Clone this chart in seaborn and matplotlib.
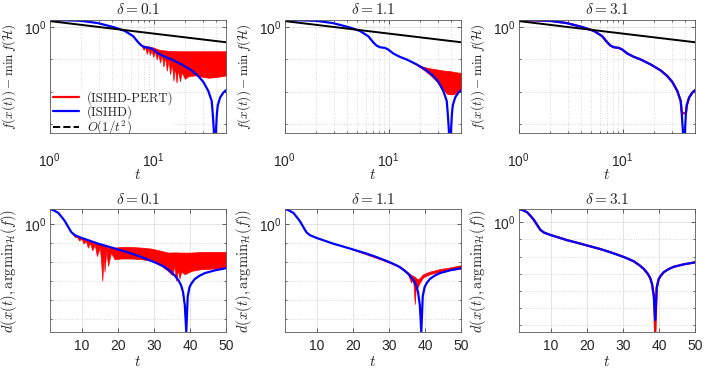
import numpy as np
import pandas as pd
import matplotlib
matplotlib.use("Agg")
import matplotlib.pyplot as plt
import matplotlib.ticker as mticker
from matplotlib.lines import Line2D
from matplotlib.font_manager import FontProperties
import seaborn as sns

sns.set_style("ticks")
plt.rcParams["font.family"] = ["Liberation Sans", "DejaVu Sans"]
plt.rcParams["mathtext.fontset"] = "custom"
plt.rcParams["mathtext.rm"] = "Liberation Sans"
plt.rcParams["mathtext.it"] = "Liberation Sans:italic"
plt.rcParams["mathtext.bf"] = "Liberation Sans:bold"

# ---- data ----
deltas = ["0.1", "1.1", "3.1"]

# top row: f(x(t)) - min f   (ISIHD, same in all panels)
t_fgap = [1.0, 1.4, 2.0, 2.9, 4.2, 5.3, 6.36, 7.1, 7.65, 8.24, 9.2, 9.9, 11.1, 12.8, 14.9,
          18.6, 23.2, 26.9, 30.1, 33.6, 36.2, 37.0, 38.0, 38.6, 39.0, 39.4, 40.0, 40.6,
          41.4, 43.6, 46.9, 50.0]
fgap_isihd = [1.63, 1.66, 1.60, 1.36, 1.0, 0.77, 0.53, 0.343, 0.27, 0.24, 0.229, 0.204,
              0.153, 0.121, 0.0998, 0.070, 0.0456, 0.0304, 0.0198, 0.0104, 0.0051, 0.0022,
              0.0006, 0.0001, 0.00002, 0.00012, 0.0008, 0.002, 0.0037, 0.0065, 0.0093, 0.0112]

# O(1/t^2) reference line
t_rate = [1.0, 10.0, 50.0]
rate = [1.57, 0.64, 0.343]

# ISIHD-PERT, delta = 0.1 (oscillating band: upper / lower envelope)
t_pert_f1 = [7.65, 8.0, 8.3, 8.6, 8.9, 9.2, 9.55, 9.9, 10.3, 10.7, 11.1, 11.5, 12.0, 12.4,
             12.9, 13.4, 13.9, 14.4, 15.0, 15.5, 16.0, 16.6, 17.2, 17.9, 18.6, 20.0, 21.6,
             25.1, 29.0, 33.6, 39.0, 45.0, 50.0]
pert_f1_up = [0.27, 0.27, 0.265, 0.26, 0.255, 0.25, 0.245, 0.235, 0.225, 0.215, 0.205, 0.2,
              0.195, 0.193, 0.19, 0.188, 0.186, 0.185, 0.184, 0.183, 0.182, 0.182, 0.181,
              0.181, 0.18, 0.18, 0.18, 0.18, 0.18, 0.18, 0.18, 0.18, 0.18]
pert_f1_lo = [0.27, 0.2, 0.24, 0.15, 0.22, 0.14, 0.2, 0.12, 0.18, 0.1, 0.16, 0.08, 0.14,
              0.06, 0.12, 0.045, 0.1, 0.035, 0.08, 0.022, 0.06, 0.019, 0.05, 0.021, 0.04,
              0.025, 0.03, 0.032, 0.029, 0.027, 0.028, 0.03, 0.032]

# ISIHD-PERT, delta = 1.1
t_pert_f2 = [16.7, 18.5, 21.6, 25.0, 29.0, 32.4, 36.3, 39.0, 42.0, 46.9, 50.0]
pert_f2_up = [0.085, 0.072, 0.059, 0.053, 0.049, 0.046, 0.044, 0.0434, 0.041, 0.039, 0.0385]
pert_f2_lo = [0.085, 0.068, 0.048, 0.033, 0.021, 0.0132, 0.0086, 0.0082, 0.0082, 0.0097, 0.0104]

# ISIHD-PERT, delta = 3.1 (on top of ISIHD except at the dip)
pert_f3 = [1.63, 1.66, 1.60, 1.36, 1.0, 0.77, 0.53, 0.343, 0.27, 0.24, 0.229, 0.204,
           0.153, 0.121, 0.0998, 0.070, 0.0456, 0.0304, 0.0198, 0.0104, 0.0051, 0.0024,
           0.0021, 0.0021, 0.0021, 0.0021, 0.0021, 0.0022, 0.0037, 0.0065, 0.0093, 0.0112]

# bottom row: distance to argmin (ISIHD)
t_dist = [1.0, 1.5, 2.0, 2.7, 3.35, 4.3, 5.2, 6.1, 7.0, 8.0, 9.8, 12.0, 14.4, 17.0, 19.0,
          21.5, 23.7, 26.0, 28.3, 30.5, 32.9, 34.5, 35.7, 36.8, 37.5, 38.0, 38.5, 38.9,
          39.3, 39.8, 40.3, 41.2, 42.5, 44.0, 46.8, 50.0]
dist_isihd = [5.7, 5.6, 5.2, 4.4, 3.8, 2.3, 1.38, 0.70, 0.36, 0.25, 0.18, 0.13, 0.09, 0.065,
              0.05, 0.036, 0.027, 0.019, 0.013, 0.0088, 0.0053, 0.0031, 0.0019, 0.001,
              0.00055, 0.00025, 0.00005, 0.000002, 0.00015, 0.00045, 0.0007, 0.0012, 0.0018,
              0.0025, 0.0035, 0.0046]

# ISIHD-PERT distance, delta = 0.1
t_pert_d1 = [7.0, 8.0, 8.6, 9.2, 9.8, 10.4, 11.0, 11.6, 12.2, 12.8, 13.5, 14.1, 14.9, 15.3,
             15.6, 16.0, 16.2, 16.7, 17.2, 18.0, 19.0, 20.9, 23.7, 26.4, 29.2, 32.0, 33.8,
             35.0, 35.6, 36.1, 36.6, 37.0, 37.5, 38.5, 40.3, 43.1, 46.8, 50.0]
pert_d1_up = [0.36, 0.25, 0.23, 0.21, 0.186, 0.17, 0.155, 0.145, 0.13, 0.118, 0.102, 0.092,
              0.083, 0.078, 0.075, 0.07, 0.068, 0.062, 0.0556, 0.056, 0.0556, 0.060, 0.060,
              0.0556, 0.0493, 0.0372, 0.0304, 0.031, 0.031, 0.031, 0.031, 0.0304, 0.0304,
              0.0304, 0.0304, 0.033, 0.033, 0.033]
pert_d1_lo = [0.36, 0.2, 0.2, 0.13, 0.17, 0.09, 0.13, 0.056, 0.1, 0.04, 0.08, 0.02, 0.06,
              0.009, 0.001, 0.03, 0.003, 0.04, 0.0061, 0.03, 0.0136, 0.0148, 0.0148, 0.0136,
              0.0111, 0.0061, 0.0033, 0.002, 0.006, 0.001, 0.004, 0.0013, 0.003, 0.0022,
              0.0033, 0.0041, 0.0044, 0.005]

# ISIHD-PERT distance, delta = 1.1
t_pert_d2 = [19.0, 23.7, 28.3, 32.0, 33.8, 35.2, 36.1, 36.6, 37.1, 37.4, 37.8, 38.3, 39.4,
             41.2, 44.0, 46.8, 50.0]
pert_d2_up = [0.05, 0.027, 0.0135, 0.0072, 0.0045, 0.0028, 0.002, 0.0018, 0.0016, 0.0014,
              0.0012, 0.0013, 0.0022, 0.003, 0.0041, 0.005, 0.0066]
pert_d2_lo = [0.05, 0.024, 0.0118, 0.0062, 0.0038, 0.0022, 0.0008, 0.0015, 0.00006,
              0.00055, 0.0004, 0.0007, 0.0015, 0.0022, 0.003, 0.0037, 0.0044]

# ISIHD-PERT distance, delta = 3.1 (same as ISIHD, deeper dip)
pert_d3 = [5.7, 5.6, 5.2, 4.4, 3.8, 2.3, 1.38, 0.70, 0.36, 0.25, 0.18, 0.13, 0.09, 0.065,
           0.05, 0.036, 0.027, 0.019, 0.013, 0.0088, 0.0053, 0.0031, 0.0019, 0.001,
           0.00055, 0.00025, 0.00005, 0.0000003, 0.00015, 0.00045, 0.0007, 0.0012, 0.0018,
           0.0025, 0.0035, 0.0046]

top_ylim = (10 ** -3.3, 10 ** 0.23)
bot_ylims = [(10 ** -5.7, 10 ** 0.76), (10 ** -5.7, 10 ** 0.76), (10 ** -6.4, 10 ** 0.75)]
top_xticks = [1, 10]
top_xticklabels = [r"$10^{0}$", r"$10^{1}$"]
bot_xticks = [10, 20, 30, 40, 50]
bot_xticklabels = ["10", "20", "30", "40", "50"]

FS = 10
TFS = 11
RED = "#ff0000"
BLUE = "#0000ff"
LW = 1.6

fig = plt.figure(figsize=(7.06, 3.72), dpi=100)
lefts = [0.0704, 0.4033, 0.7347]
W = 0.2501
top_axes = [fig.add_axes([l, 0.6417, W, 0.3046]) for l in lefts]
bot_axes = [fig.add_axes([l, 0.1075, W, 0.3298]) for l in lefts]


def style(ax, ylim, yminor, logx):
    ax.set_yscale("log")
    if logx:
        ax.set_xscale("log")
        ax.set_xlim(1, 50)
        ax.xaxis.set_major_locator(mticker.FixedLocator(top_xticks))
        ax.xaxis.set_major_formatter(mticker.FixedFormatter(top_xticklabels))
        ax.xaxis.set_minor_locator(mticker.LogLocator(base=10, subs=np.arange(2, 10)))
        ax.xaxis.set_minor_formatter(mticker.NullFormatter())
    else:
        ax.set_xlim(1, 50)
        ax.xaxis.set_major_locator(mticker.FixedLocator(bot_xticks))
        ax.xaxis.set_major_formatter(mticker.FixedFormatter(bot_xticklabels))
        ax.xaxis.set_minor_locator(mticker.NullLocator())
    ax.set_ylim(*ylim)
    ax.yaxis.set_major_locator(mticker.FixedLocator([1.0]))
    ax.yaxis.set_major_formatter(mticker.FixedFormatter([r"$10^{0}$"]))
    ax.yaxis.set_minor_locator(mticker.FixedLocator(yminor))
    ax.yaxis.set_minor_formatter(mticker.NullFormatter())
    ax.grid(which="major", color="0.88", lw=0.6, ls="-")
    ax.grid(which="minor", color="0.72", lw=0.5, ls=(0, (1, 2.5)))
    ax.set_axisbelow(True)
    ax.tick_params(which="both", direction="in", top=True, right=True, width=0.5,
                   colors="0.15", labelsize=FS, labelcolor="0.15")
    ax.tick_params(which="major", length=3)
    ax.tick_params(which="minor", length=1.5)
    ax.tick_params(axis="y", pad=2)
    for s in ax.spines.values():
        s.set_color("0.35")
        s.set_linewidth(0.6)


for i, ax in enumerate(top_axes):
    if i == 0:
        ax.fill_between(t_pert_f1, pert_f1_lo, pert_f1_up, color=RED, lw=0.5)
    elif i == 1:
        ax.fill_between(t_pert_f2, pert_f2_lo, pert_f2_up, color=RED, lw=0.5)
    else:
        sns.lineplot(x=t_fgap, y=pert_f3, ax=ax, color=RED, lw=LW, estimator=None, sort=False)
    sns.lineplot(x=t_fgap, y=fgap_isihd, ax=ax, color=BLUE, lw=LW, estimator=None, sort=False)
    sns.lineplot(x=t_rate, y=rate, ax=ax, color="black", lw=1.4, estimator=None, sort=False)
    style(ax, top_ylim, [1e-1, 1e-2, 1e-3], True)
    ax.tick_params(axis="x", pad=13)
    ax.set_title(r"$\delta = %s$" % deltas[i], fontsize=TFS, math_fontfamily="cm", pad=4)
    ax.set_ylabel(r"$f(x(t)) - \min\, f(\mathcal{H})$", fontsize=9.5, math_fontfamily="cm")
    ax.set_xlabel(r"$t$", fontsize=TFS, math_fontfamily="cm")
    ax.yaxis.set_label_coords(-0.18, 0.5)
    ax.xaxis.set_label_coords(0.5, -0.31)

for i, ax in enumerate(bot_axes):
    if i == 0:
        ax.fill_between(t_pert_d1, pert_d1_lo, pert_d1_up, color=RED, lw=0.5)
    elif i == 1:
        ax.fill_between(t_pert_d2, pert_d2_lo, pert_d2_up, color=RED, lw=0.5)
    else:
        sns.lineplot(x=t_dist, y=pert_d3, ax=ax, color=RED, lw=LW, estimator=None, sort=False)
    sns.lineplot(x=t_dist, y=dist_isihd, ax=ax, color=BLUE, lw=LW, estimator=None, sort=False)
    yminor = [1e-1, 1e-2, 1e-3, 1e-4, 1e-5] + ([1e-6] if i == 2 else [])
    style(ax, bot_ylims[i], yminor, False)
    ax.tick_params(axis="x", pad=5)
    ax.set_title(r"$\delta = %s$" % deltas[i], fontsize=TFS, math_fontfamily="cm", pad=4)
    ax.set_ylabel(r"$d(x(t), \mathrm{argmin}_{\mathcal{H}}(f))$", fontsize=10.5, math_fontfamily="cm")
    ax.set_xlabel(r"$t$", fontsize=TFS, math_fontfamily="cm")
    ax.yaxis.set_label_coords(-0.172, 0.5)
    ax.xaxis.set_label_coords(0.5, -0.185)

handles = [Line2D([], [], color=RED, lw=LW),
           Line2D([], [], color=BLUE, lw=LW),
           Line2D([], [], color="black", lw=1.4, ls="--")]
labels = ["(ISIHD-PERT)", "(ISIHD)", r"$O(1/t^2)$"]
leg = top_axes[0].legend(handles, labels, loc="lower left", bbox_to_anchor=(0.02, -0.035),
                         prop=FontProperties(family="cmr10", size=9.3, math_fontfamily="cm"),
                         frameon=True, handlelength=2.0, handletextpad=0.6,
                         labelspacing=0.02, borderpad=0.0, borderaxespad=0.0)
leg.get_frame().set_edgecolor("none")
leg.get_frame().set_facecolor("white")
leg.get_frame().set_alpha(1.0)
leg.set_zorder(2.4)

fig.savefig("out.png", dpi=100)
